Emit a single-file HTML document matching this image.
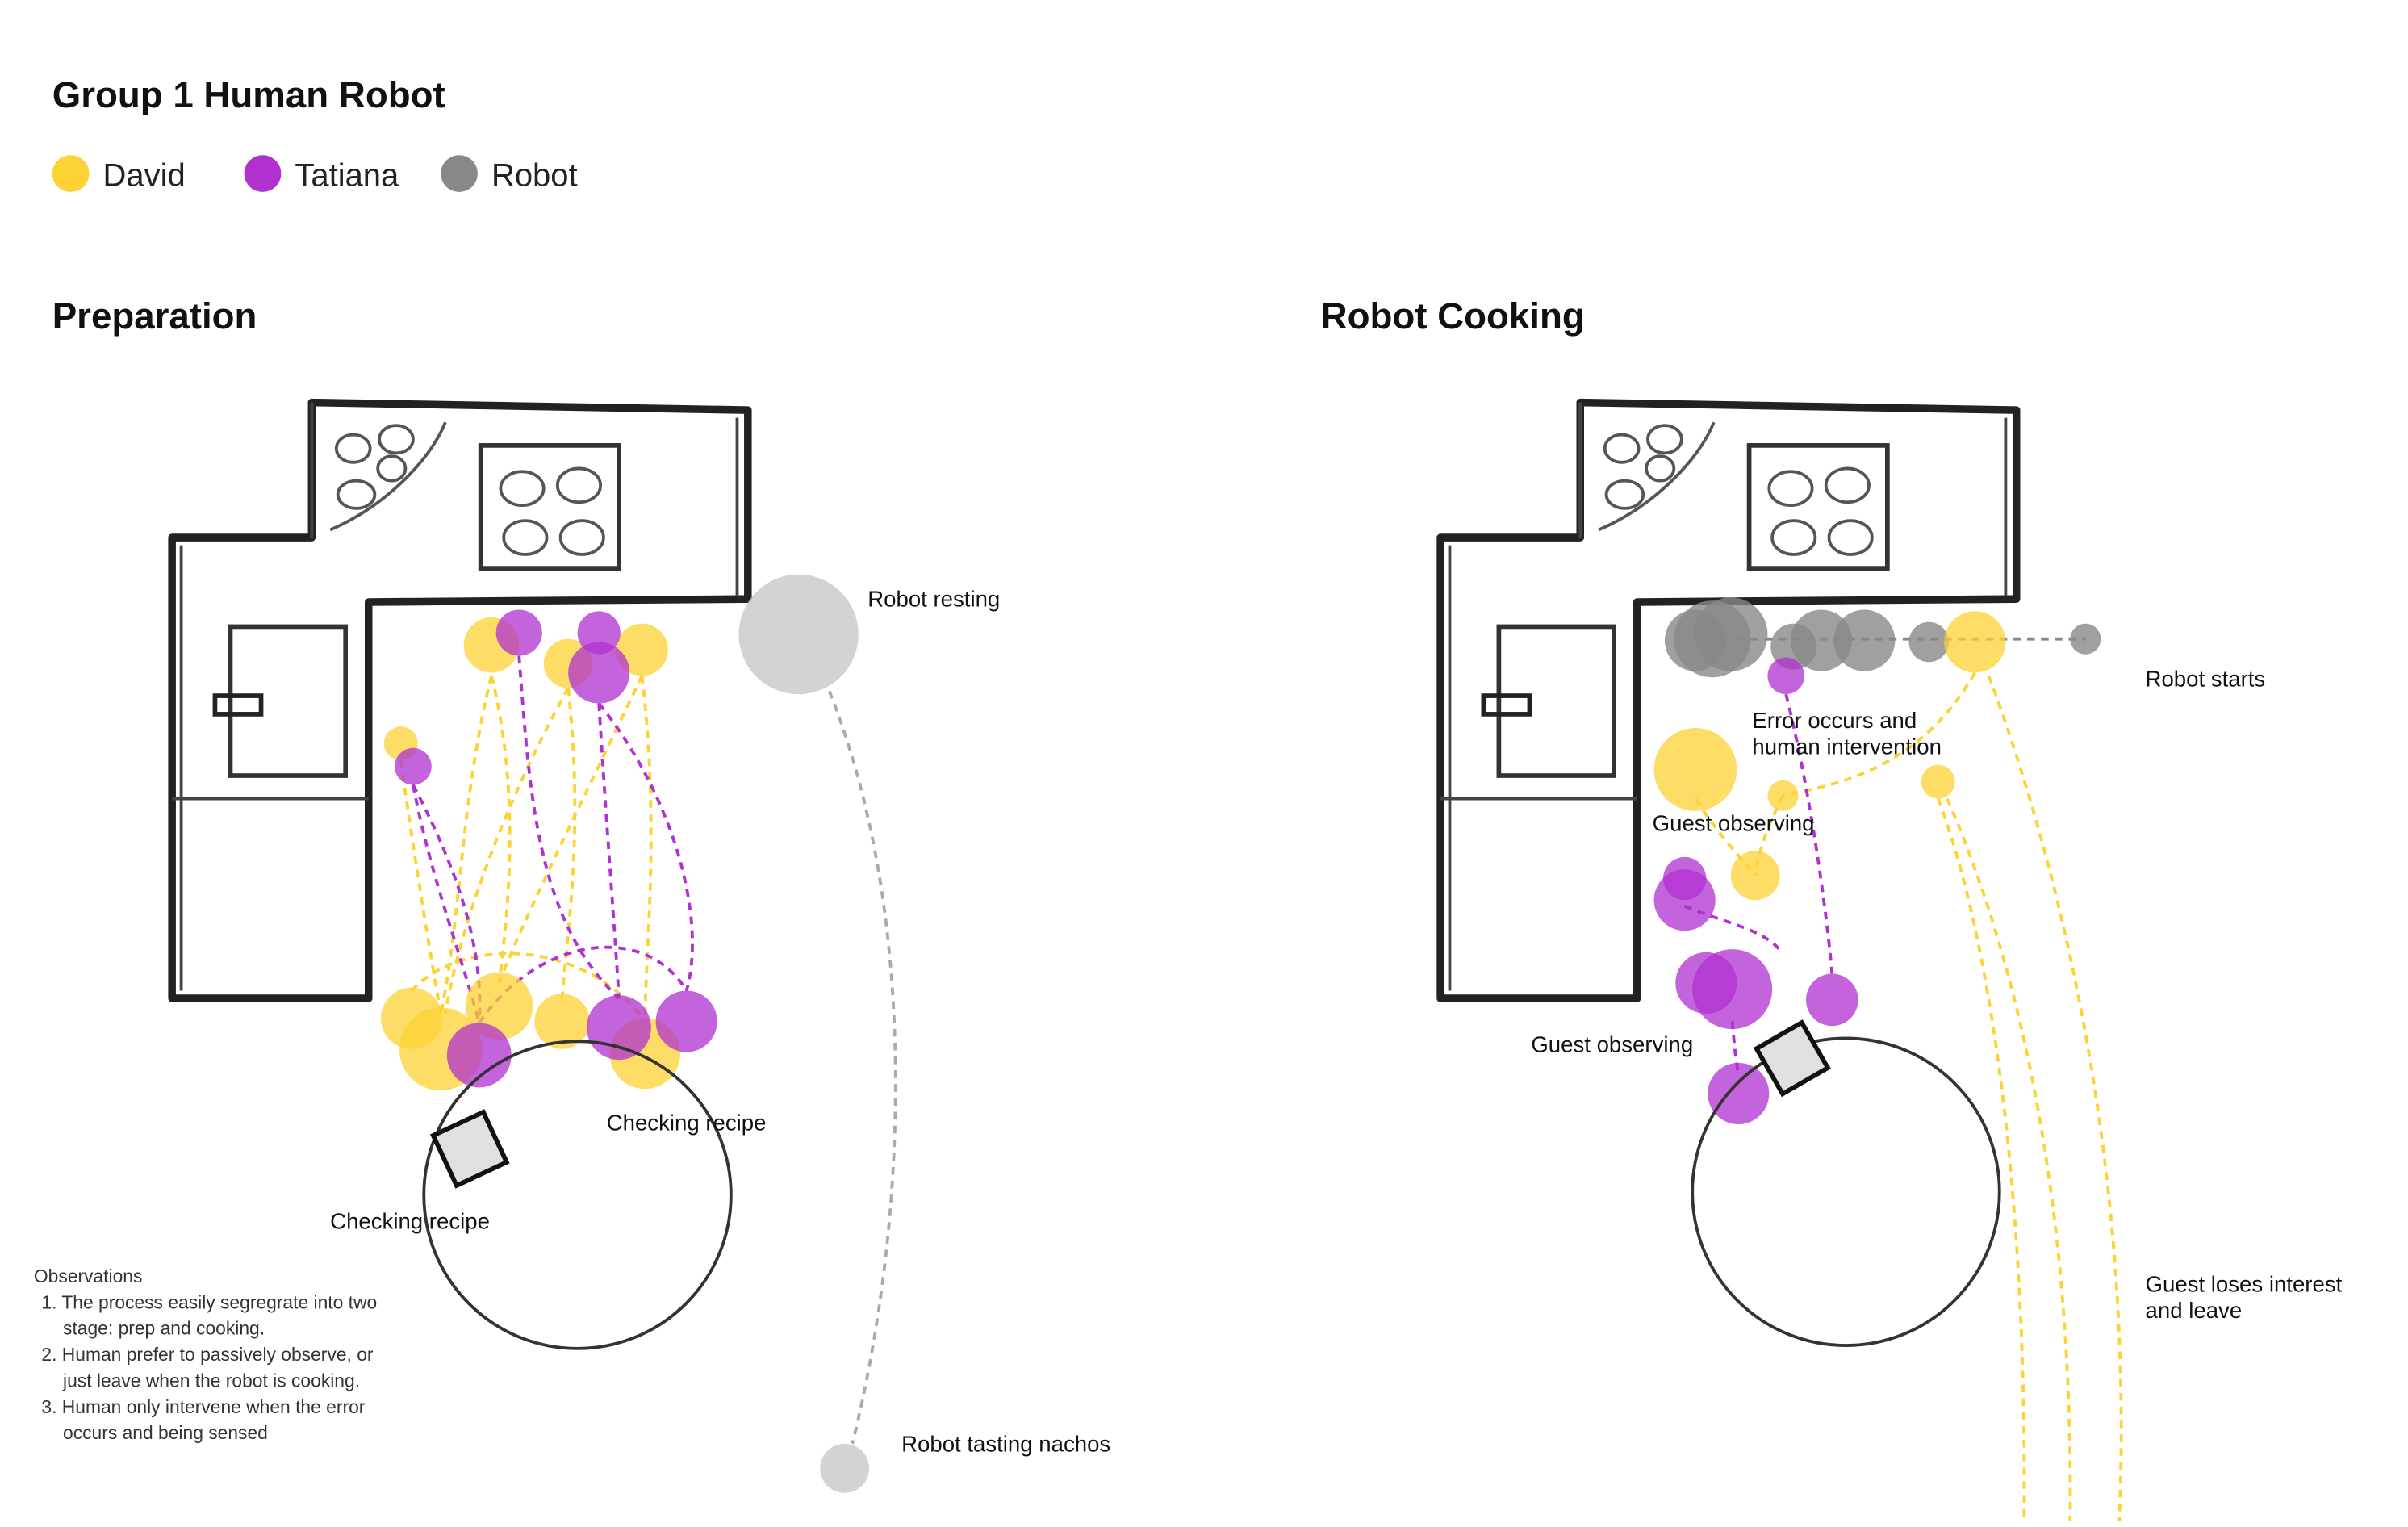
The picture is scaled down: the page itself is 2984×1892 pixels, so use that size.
<!DOCTYPE html>
<html><head><meta charset="utf-8"><style>
html,body{margin:0;padding:0;background:#fff;}
svg{display:block;font-family:"Liberation Sans",sans-serif;}
</style></head><body>
<svg id="chart" width="2984" height="1892" viewBox="0 0 1568 994.2" xmlns="http://www.w3.org/2000/svg">
<text x="34" y="70" font-size="24" font-weight="bold" fill="#111">Group 1 Human Robot</text>
<g font-size="21" fill="#222">
<circle cx="46" cy="113" r="12" fill="#fdd234"/><text x="67" y="121">David</text>
<circle cx="171" cy="113" r="12" fill="#b030d0"/><text x="192" y="121">Tatiana</text>
<circle cx="299" cy="113" r="12" fill="#888"/><text x="320" y="121">Robot</text>
</g>
<text x="34" y="214" font-size="24" font-weight="bold" fill="#111">Preparation</text>
<text x="860" y="214" font-size="24" font-weight="bold" fill="#111">Robot Cooking</text>
<g id="kitchens"></g>
<g id="paths" fill="none" stroke-width="2" stroke-dasharray="5,4">
<g stroke="#fdd234">
<path d="M320 440 C300 520 300 600 287 660"/><path d="M320 440 C340 520 330 600 325 640"/>
<path d="M370 448 C330 520 300 600 290 660"/><path d="M370 448 C380 540 370 600 366 650"/>
<path d="M418 440 C380 520 340 600 325 640"/><path d="M418 440 C430 540 420 620 420 665"/>
<path d="M261 495 C270 560 280 620 287 660"/><path d="M268 645 C300 610 380 610 420 665"/>
</g>
<g stroke="#b030d0">
<path d="M338 427 C345 520 350 600 403 650"/><path d="M390 458 C395 540 400 600 403 650"/>
<path d="M390 458 C440 520 460 600 447 645"/><path d="M269 511 C300 570 315 620 312 666"/>
<path d="M269 511 C280 570 300 620 312 666"/><path d="M312 666 C350 610 420 600 447 645"/>
</g>
<path stroke="#aaa" d="M540 450 C600 600 590 800 555 940"/>
<path stroke="#888" d="M1104 416 L1358 416"/>
<g stroke="#fdd234">
<path d="M1286 438 C1250 500 1200 510 1161 518"/><path d="M1161 518 C1150 540 1145 555 1143 570"/>
<path d="M1104 520 C1120 545 1135 560 1143 570"/>
<path d="M1262 520 C1300 620 1320 800 1318 990"/><path d="M1268 520 C1320 640 1350 800 1348 990"/>
<path d="M1295 440 C1340 560 1390 760 1380 990"/>
</g>
<g stroke="#b030d0">
<path d="M1163 452 C1180 520 1190 600 1193 634"/><path d="M1097 590 C1120 600 1150 605 1160 620"/>
<path d="M1128 665 C1130 690 1132 700 1132 700"/>
</g>
</g>
<g id="marks"></g>
<g fill="none" stroke="#333" stroke-width="2">
<circle cx="376" cy="778" r="100"/>
<circle cx="1202" cy="776" r="100"/>
<rect x="-18" y="-18" width="36" height="36" fill="#e0e0e0" stroke="#111" stroke-width="3" transform="translate(306 748) rotate(-25)"/>
<rect x="-17" y="-17" width="34" height="34" fill="#e0e0e0" stroke="#111" stroke-width="3" transform="translate(1167 689) rotate(-30)"/>
</g>
<g font-size="14.5" fill="#111">
<text x="565" y="395">Robot resting</text>
<text x="395" y="736">Checking recipe</text>
<text x="215" y="800">Checking recipe</text>
<text x="587" y="945">Robot tasting nachos</text>
<text x="1397" y="447">Robot starts</text>
<text x="1141" y="474">Error occurs and</text>
<text x="1141" y="491">human intervention</text>
<text x="1076" y="541">Guest observing</text>
<text x="997" y="685">Guest observing</text>
<text x="1397" y="841">Guest loses interest</text>
<text x="1397" y="858">and leave</text>
</g>
<g font-size="12" fill="#333">
<text x="22" y="835">Observations</text>
<text x="27" y="852">1. The process easily segregrate into two</text>
<text x="41" y="869">stage: prep and cooking.</text>
<text x="27" y="886">2. Human prefer to passively observe, or</text>
<text x="41" y="903">just leave when the robot is cooking.</text>
<text x="27" y="920">3. Human only intervene when the error</text>
<text x="41" y="937">occurs and being sensed</text>
</g>
</svg>
<script>
// Marker data
const xs = [320,370,418,261,268,287,325,366,420, 338,390,390,269,312,403,447, 520,550,
            1104,1115,1127,1168,1186,1214,1256,1358, 1286,1104,1161,1143,1262, 1163,1097,1097,1111,1128,1193,1132];
const ys = [420,432,423,484,663,683,655,665,686, 412,412,438,499,687,669,665, 413,956,
            417,416,413,421,417,417,418,416, 418,501,518,570,509, 440,572,586,640,644,651,712];
const sizes = [18,16,17,11,20,27,22,18,23, 15,14,20,12,21,21,20, 39,16,
            20,25,24,15,20,20,13,10, 20,27,10,16,11, 12,14,20,20,26,17,20];
const who = ["D","D","D","D","D","D","D","D","D", "T","T","T","T","T","T","T", "R","R",
            "R","R","R","R","R","R","R","R", "D","D","D","D","D", "T","T","T","T","T","T","T"];
const NS="http://www.w3.org/2000/svg";
const fills={D:"#fdd234",T:"#b030d0",R:"#888"};
const marks=document.getElementById("marks");
for(let i=0;i<xs.length;i++){
  const c=document.createElementNS(NS,"circle");
  c.setAttribute("cx",xs[i]);c.setAttribute("cy",ys[i]);c.setAttribute("r",sizes[i]);
  let f=fills[who[i]]; if(who[i]==="R"&&xs[i]<800) f="#c8c8c8";
  c.setAttribute("fill",f);c.setAttribute("fill-opacity",who[i]==="R"?0.8:0.75);
  
  
  marks.appendChild(c);
}
// Kitchen sketches
const k=document.getElementById("kitchens");
[0,826].forEach((dx,j)=>{
  const g=document.createElementNS(NS,"g");
  
  
  g.setAttribute("transform","translate("+dx+" 0)");
  g.innerHTML=
   '<path d="M203 262 L487 267 L487 390 L240 392 L240 650 L112 650 L112 350 L203 350 Z" fill="none" stroke="#222" stroke-width="5" stroke-linejoin="round"/>'+
   '<path d="M203 262 L203 350 M118 355 L118 645 M480 272 L480 388 M112 520 L240 520" fill="none" stroke="#444" stroke-width="2"/>'+
   '<rect x="313" y="290" width="90" height="80" fill="none" stroke="#333" stroke-width="3"/>'+
   '<g fill="none" stroke="#555" stroke-width="2"><ellipse cx="340" cy="318" rx="14" ry="11"/><ellipse cx="377" cy="316" rx="14" ry="11"/><ellipse cx="342" cy="350" rx="14" ry="11"/><ellipse cx="379" cy="350" rx="14" ry="11"/>'+
   '<ellipse cx="230" cy="292" rx="11" ry="9"/><ellipse cx="258" cy="286" rx="11" ry="9"/><ellipse cx="232" cy="322" rx="12" ry="9"/><ellipse cx="255" cy="305" rx="9" ry="8"/>'+
   '<path d="M215 345 C250 330 280 300 290 275"/></g>'+
   '<rect x="150" y="408" width="75" height="97" fill="none" stroke="#333" stroke-width="3"/>'+
   '<rect x="140" y="453" width="30" height="12" fill="none" stroke="#222" stroke-width="3"/>';
  k.appendChild(g);
});
</script>
</body></html>
